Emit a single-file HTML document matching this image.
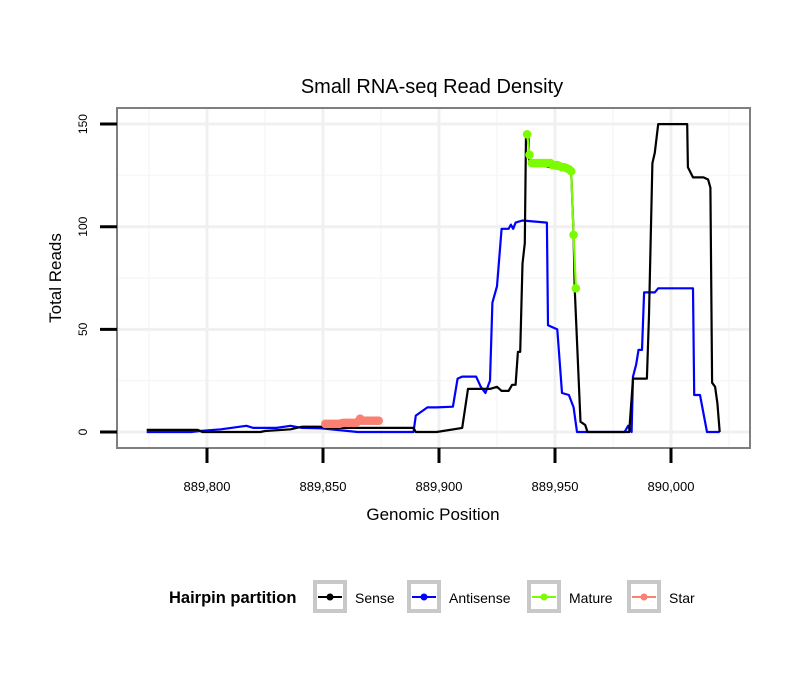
<!DOCTYPE html>
<html><head><meta charset="utf-8"><style>
body{margin:0;background:#fff;}
svg text{font-family:"Liberation Sans",sans-serif;}
</style></head><body>
<svg id="chart" width="810" height="690" viewBox="0 0 810 690" xmlns="http://www.w3.org/2000/svg">
<rect width="810" height="690" fill="#fff"/>
<text x="432" y="93" font-size="20" text-anchor="middle">Small RNA-seq Read Density</text>
<g id="grid"></g>
<g id="series"></g>
<rect x="117" y="108" width="633" height="340" fill="none" stroke="#7f7f7f" stroke-width="2"/>
<g id="axes"></g>
<text x="433" y="520" font-size="17" text-anchor="middle">Genomic Position</text>
<text transform="translate(61,278) rotate(-90)" font-size="17" text-anchor="middle">Total Reads</text>
<g id="legend">
<text x="169" y="603" font-size="16.5" font-weight="bold">Hairpin partition</text>
</g>
</svg>
<script>
const sensePos=[889774,889796,889798,889823,889825,889836,889841,889849,889852,889875,889889,889890,889899,889910,889912.5,889922,889925,889927,889930,889931.5,889933,889934,889935,889936,889937,889937.5,889938.5,889939,889957,889958,889958.5,889961,889963,889964,889982,889983.6,889989.6,889990.5,889992,889993,889994.5,890007,890007.3,890009.5,890014,890016,890017,890017.7,890019,890020,890021];
const senseVal=[1,1,0,0,0.5,1.3,2.6,2.6,2,2,2,0,0,2,21,21,22,20,20,23,23,39,39,82,92,145,145,131,127,96,70,5,3.4,0,0,26,26,57,131,136,150,150,129,124,124,123,119,24,22,14,0];
const antiPos=[889774,889793,889797,889806,889817,889820,889830,889836,889841,889849,889865,889889,889890,889895,889899,889906,889908,889910,889916,889918,889920,889922,889923,889925,889927,889930,889931,889932,889933,889936,889946.5,889947,889951,889953,889956,889958,889959.5,889980,889981.5,889983,889983.6,889985,889986,889987.5,889988.4,889993,889994.5,890009.5,890010,890012.5,890015.5,890021];
const antiVal=[0,0,0.5,1.3,3,2,2,3,2,1.8,0,0,8,12,12,12.3,26,27,27,22,19,25,63,71,99,99,101,99,102,103,102,52,50,19,18,12,0,0,3,0,27,33,40,40,68,68,70,70,18,18,0,0];
const maturePos=[889938,889939,889940,889941,889942,889943,889944,889945,889946,889947,889948,889949,889950,889951,889952,889953,889954,889955,889956,889957,889958,889959];
const matureVal=[145,135,131,131,131,131,131,131,131,131,131,130,130,130,129.5,129,129,128.5,128,127,96,70];
const starPos=[889851,889852,889853,889854,889855,889856,889857,889858,889859,889860,889861,889862,889863,889864,889865,889866,889867,889868,889869,889870,889871,889872,889873,889874];
const starVal=[4,4,4,4,4,4,4,4.3,4.5,4.5,4.5,4.5,4.5,4.5,5,6.5,5.5,5.5,5.5,5.5,5.5,5.5,5.5,5.5];
const xTicks=[889800,889850,889900,889950,890000];
const xTickLabels=["889,800","889,850","889,900","889,950","890,000"];
const yTicks=[0,50,100,150];
const yTickLabels=["0","50","100","150"];

const NS="http://www.w3.org/2000/svg";
const X=v=>207+(v-889800)*2.32;
const Y=v=>432-v*2.053;
function mk(tag,attrs,parent){const e=document.createElementNS(NS,tag);for(const k in attrs)e.setAttribute(k,attrs[k]);parent.appendChild(e);return e;}
const grid=document.getElementById('grid'),series=document.getElementById('series'),axes=document.getElementById('axes'),legend=document.getElementById('legend');
for(let i=0;i<xTicks.length;i++){const mv=xTicks[i]-25;const l=mk('line',{x1:X(mv),x2:X(mv),y1:109,y2:447,stroke:'#f7f7f7','stroke-width':1.5},grid);

}
{const mv=xTicks[xTicks.length-1]+25;const l=mk('line',{x1:X(mv),x2:X(mv),y1:109,y2:447,stroke:'#f7f7f7','stroke-width':1.5},grid);

}
[25,75,125].forEach(v=>{const l=mk('line',{x1:118,x2:749,y1:Y(v),y2:Y(v),stroke:'#f7f7f7','stroke-width':1.5},grid);

});
xTicks.forEach((v,i)=>{const l=mk('line',{x1:X(v),x2:X(v),y1:109,y2:447,stroke:'#f0f0f0','stroke-width':3},grid);


const t=mk('line',{x1:X(v),x2:X(v),y1:448,y2:463,stroke:'#000','stroke-width':3},axes);


const tx=mk('text',{x:X(v),y:491,'font-size':13,'text-anchor':'middle'},axes);tx.textContent=xTickLabels[i];

});
yTicks.forEach((v,i)=>{const l=mk('line',{x1:118,x2:749,y1:Y(v),y2:Y(v),stroke:'#f0f0f0','stroke-width':3},grid);


const t=mk('line',{x1:100,x2:117,y1:Y(v),y2:Y(v),stroke:'#000','stroke-width':3},axes);


const tx=mk('text',{transform:`translate(87,${Y(v)}) rotate(-90)`,'font-size':12,'text-anchor':'middle'},axes);tx.textContent=yTickLabels[i];

});
function line(pos,val,color,name){const d=pos.map((p,i)=>(i?'L':'M')+X(p).toFixed(1)+','+Y(val[i]).toFixed(1)).join(' ');
const p=mk('path',{d:d,fill:'none',stroke:color,'stroke-width':2.2,'stroke-linejoin':'round'},series);

}
function pts(pos,val,color,name){pos.forEach((p,i)=>{const c=mk('circle',{cx:X(p),cy:Y(val[i]),r:4.3,fill:color},series);

});}
line(antiPos,antiVal,'#0000ff','antisense-line');
line(sensePos,senseVal,'#000','sense-line');
line(maturePos,matureVal,'#7cfc00','mature-line');
pts(maturePos,matureVal,'#7cfc00','mature-point');
line(starPos,starVal,'#fa8072','star-line');
pts(starPos,starVal,'#fa8072','star-point');
const legItems=[['Sense','#000',313],['Antisense','#0000ff',407],['Mature','#7cfc00',527],['Star','#fa8072',627]];
legItems.forEach(it=>{const g=mk('g',{},legend);


mk('rect',{x:it[2]+2,y:582,width:30,height:29,fill:'#fff',stroke:'#c8c8c8','stroke-width':4},g);
mk('line',{x1:it[2]+5,x2:it[2]+29,y1:597,y2:597,stroke:it[1],'stroke-width':2},g);
mk('circle',{cx:it[2]+17,cy:597,r:3.5,fill:it[1]},g);
const t=mk('text',{x:it[2]+42,y:603,'font-size':14},g);t.textContent=it[0];});
</script>
</body></html>
